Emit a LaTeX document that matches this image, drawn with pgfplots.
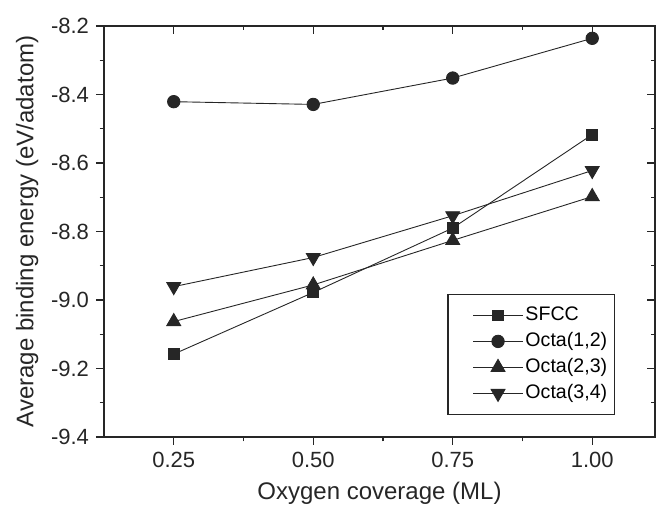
\documentclass[border=0pt]{standalone}
\usepackage{fontspec}
\setmainfont{Liberation Sans}
\usepackage{pgfplots}
\pgfplotsset{compat=1.18}
\begin{document}
\begin{tikzpicture}
\pgfplotsset{
  common/.style={
    width=275.5pt, height=205.5pt, scale only axis,
    xmin=0.125, xmax=1.1125, ymin=-9.4, ymax=-8.2,
    xtick={0.25,0.5,0.75,1}, ytick={-9.4,-9.2,-9.0,-8.8,-8.6,-8.4,-8.2},
    minor x tick num=1, minor y tick num=1,
    major tick length=4pt, minor tick length=2.2pt,
    axis line style={line width=0.6pt, black!85},
    every tick/.style={line width=0.6pt, black!85},
  }
}
\begin{axis}[common, name=ax,
  tick align=outside, xtick pos=lower, ytick pos=left,
  xticklabels={0.25,0.50,0.75,1.00},
  yticklabels={-9.4,-9.2,-9.0,-8.8,-8.6,-8.4,-8.2},
  tick label style={font=\fontsize{11}{13}\selectfont, black!85},
  /pgf/number format/assume math mode=true,
  xlabel={Oxygen coverage (ML)}, ylabel={Average binding energy (eV/adatom)},
  label style={font=\fontsize{12}{14}\selectfont, black!85},
  xlabel style={yshift=-0.5pt}, ylabel style={yshift=-0.5pt},
  legend style={at={(0.927,0.0535)}, anchor=south east, draw=black!85, line width=0.6pt,
    font=\fontsize{9.8}{12}\selectfont, row sep=0pt, inner xsep=2.5pt, inner ysep=4pt,
    nodes={inner xsep=1pt, inner ysep=1.5pt, text height=7.5pt, text depth=2.5pt},
    /tikz/every even column/.append style={column sep=1.5pt}},
  legend cell align=left,
  legend image code/.code={
    \path[draw=none, fill=none] (-10pt,0pt) -- (25pt,0pt);
    \draw[#1, mark repeat=2, mark phase=2] plot coordinates {(0pt,0pt) (12.5pt,0pt) (25pt,0pt)};
  },
  every axis plot/.append style={line width=0.45pt, black!85, mark options={solid, fill=black!85, draw=black!85}},
]
\addplot[mark=square*, mark size=2.7pt] coordinates {(0.25,-9.158) (0.5,-8.978) (0.75,-8.790) (1.0,-8.517)};
\addlegendentry{SFCC}
\addplot[mark=*, mark size=3.1pt] coordinates {(0.25,-8.421) (0.5,-8.429) (0.75,-8.352) (1.0,-8.236)};
\addlegendentry{Octa(1,2)}
\addplot[mark=triangle*, mark size=4pt] coordinates {(0.25,-9.063) (0.5,-8.956) (0.75,-8.826) (1.0,-8.698)};
\addlegendentry{Octa(2,3)}
\addplot[mark=triangle*, mark size=4pt, mark options={rotate=180}] coordinates {(0.25,-8.961) (0.5,-8.876) (0.75,-8.754) (1.0,-8.622)};
\addlegendentry{Octa(3,4)}
\end{axis}
\begin{axis}[common, tick align=inside, xtick pos=upper, ytick pos=right,
  xticklabels={}, yticklabels={}, axis line style={draw=none}]
\end{axis}
\pgfresetboundingbox
\path ([shift={(-52pt,-35pt)}]ax.south west) rectangle ([shift={(0.5pt,13pt)}]ax.north east);
\end{tikzpicture}
\end{document}
